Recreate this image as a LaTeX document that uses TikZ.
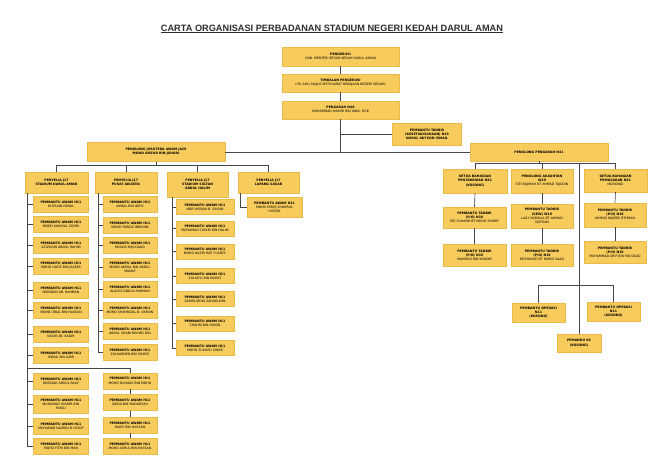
\documentclass[tikz,border=0pt]{standalone}
\usepackage{fontspec}
\setmainfont{Liberation Sans}
\newfontfamily\boxfont{DejaVu Sans}
\usetikzlibrary{shadows}
\definecolor{boxfill}{RGB}{247,204,92}
\definecolor{boxedge}{RGB}{232,186,72}
\definecolor{linec}{RGB}{70,70,70}
\definecolor{titlec}{RGB}{45,45,45}
\newcommand\pawam[1]{\textbf{PEMBANTU AWAM H11}\\#1}
\newcommand\ptadbir[2]{\textbf{PEMBANTU TADBIR}\\\textbf{#1}\\#2}
\tikzset{
  box/.style={fill=boxfill, draw=boxedge, line width=0.2pt, inner sep=0.5pt,
    align=center, text=black, font=\boxfont\fontsize{3.2}{4.1}\selectfont,
    drop shadow={shadow xshift=0.9pt, shadow yshift=-0.9pt, fill=black, opacity=0.25}},
  pa/.style={box, minimum width=55pt, minimum height=16pt},
  pa3/.style={box, minimum width=58pt, minimum height=15pt},
  rt/.style={box, minimum width=63pt, minimum height=22pt},
  link/.style={draw=linec, line width=0.65pt},
}
\begin{document}
\begin{tikzpicture}[x=1pt,y=-1pt]
\fill[white] (0,0) rectangle (665,470);
\useasboundingbox (0,0) rectangle (665,470);

\node[font=\bfseries\fontsize{9.2}{11}\selectfont, text=titlec] (title) at (332,29)
  {\underline{CARTA ORGANISASI PERBADANAN STADIUM NEGERI KEDAH DARUL AMAN}};

% top chain
\node[box, minimum width=117pt, minimum height=19pt] (peng) at (340.5,56.5)
  {\textbf{PENGERUSI}\\(YAB. MENTERI BESAR KEDAH DARUL AMAN)};
\node[box, minimum width=117pt, minimum height=18pt] (timb) at (340.5,83)
  {\textbf{TIMBALAN PENGERUSI}\\(YB. AHLI MAJLIS MESYUARAT KERAJAAN NEGERI KEDAH)};
\node[box, minimum width=117pt, minimum height=18pt] (pgh) at (340.5,110)
  {\textbf{PENGARAH N48}\\MUHAMMAD HAKIMI BIN JAMIL, BCK};
\node[box, minimum width=69pt, minimum height=22pt] (ptk) at (427,134.5)
  {\textbf{PEMBANTU TADBIR}\\\textbf{(KESETIAUSAHAAN) N19}\\\textbf{NURUL AKYSON ISMAIL}};
\node[box, minimum width=138pt, minimum height=19pt] (pj) at (156,152)
  {\textbf{PENOLONG JURUTERA AWAM JA29}\\\textbf{MOHD AMZAR BIN JOHARI}};
\node[box, minimum width=138pt, minimum height=18pt] (ppn) at (539,152)
  {\textbf{PENOLONG PENGARAH N41}};

\coordinate (trunk) at (340.5,152);
\coordinate (tk) at (340.5,134.5);
\draw[link] (peng.south) -- (timb.north);
\draw[link] (timb.south) -- (pgh.north);
\draw[link] (pgh.south) -- (trunk);
\draw[link] (tk) -- (ptk.west);
\draw[link] (pj.east) -- (ppn.west);

% penyelia row
\node[box, minimum width=63pt, minimum height=21pt] (s1) at (56.5,182.5)
  {\textbf{PENYELIA J17}\\\textbf{STADIUM DARUL AMAN}};
\node[box, minimum width=62pt, minimum height=21pt] (s2) at (126,182.5)
  {\textbf{PENYELIA J17}\\\textbf{PUSAT AKUATIK}};
\node[box, minimum width=61pt, minimum height=25pt] (s3) at (197.5,184.5)
  {\textbf{PENYELIA J17}\\\textbf{STADIUM SULTAN}\\\textbf{ABDUL HALIM}};
\node[box, minimum width=61pt, minimum height=21pt] (s4) at (268.5,182.5)
  {\textbf{PENYELIA J17}\\\textbf{LAPANG SASAR}};
\draw[link] (pj.south) -- ++(0,3);
\draw[link] (s1.north) -- ++(0,-7) -| (s4.north);
\draw[link] (s2.north) -- ++(0,-7);
\draw[link] (s3.north) -- ++(0,-7);

% column 1
\node[pa] (c1r1) at (61,204) {\pawam{HUSSAIN ISMAIL}};
\node[pa] (c1r2) at (61,224.5) {\pawam{MOHD KHAIRUL ZOHRI}};
\node[pa] (c1r3) at (61,245.5) {\pawam{AZIZUDIN ABDUL RAHIM}};
\node[pa] (c1r4) at (61,266) {\pawam{MOHD HAFIZ BIN JAAFAR}};
\node[pa] (c1r5) at (61,290) {\pawam{NORIDAN AB. RAHMAN}};
\node[pa] (c1r6) at (61,310.5) {\pawam{MOHD UBAIL BIN HASSAN}};
\node[pa] (c1r7) at (61,334) {\pawam{NASIR AB. KADIR}};
\node[pa] (c1r8) at (61,355) {\pawam{ISMAIL BIN AZMI}};
\node[pa] (c1r9) at (61,381.5) {\pawam{ROSIDAH ABDUL RAUF}};
\node[pa, minimum height=18pt] (c1r10) at (61,404) {\pawam{MUHAMAD SYAMIR BIN\\MUSLI}};
\node[pa] (c1r11) at (61,426.5) {\pawam{MUHAMAD NAZRIN B.YUSOF}};
\node[pa] (c1r12) at (61,446.5) {\pawam{MOHD FITRI BIN MAN}};
\coordinate (sp1) at ([xshift=2pt]s1.south west);
\foreach \n in {1,...,12} \draw[link] (sp1) |- (c1r\n.west);

\node[pa, minimum width=54pt] (c1b1) at (130,381) {\pawam{MOHD QUHAIDI BIN MOHD}};
\node[pa, minimum width=54pt] (c1b2) at (130,402.5) {\pawam{ZAIDA BIN MADARSAH}};
\node[pa, minimum width=54pt] (c1b3) at (130,425) {\pawam{HAIRY BIN HASSAN}};
\node[pa, minimum width=54pt] (c1b4) at (130,446.5) {\pawam{MOHD ASRUL BIN HASSAN}};
\coordinate (br1) at (27,368);
\draw[link] (br1) -| (c1b1.north);
\draw[link] (c1b1.south) -- (c1b2.north);
\draw[link] (c1b2.south) -- (c1b3.north);
\draw[link] (c1b3.south) -- (c1b4.north);

% column 2
\node[pa, minimum width=54pt] (c2r1) at (130,204.5) {\pawam{AKMAL BIN IDRIS}};
\node[pa, minimum width=54pt] (c2r2) at (130,225) {\pawam{MOHD FARIDZ IBRAHIM}};
\node[pa, minimum width=54pt] (c2r3) at (130,245.5) {\pawam{KHALID HAJI DAUD}};
\node[pa, minimum width=54pt, minimum height=19pt] (c2r4) at (130,267.5) {\pawam{MOHD AKMAL BIN ABDUL\\MANAF}};
\node[pa, minimum width=54pt] (c2r5) at (130,289.5) {\pawam{ALIAZIZ ABDUL RAHMAN}};
\node[pa, minimum width=54pt] (c2r6) at (130,310) {\pawam{MOHD SHAHRIZAL B. OSMAN}};
\node[pa, minimum width=54pt] (c2r7) at (130,331.5) {\pawam{ABDUL SHANI BIN MD DIN}};
\node[pa, minimum width=54pt] (c2r8) at (130,352) {\pawam{ZULKARNEN BIN SHAFIE}};
\coordinate (sp2) at ([xshift=3pt]s2.south west);
\foreach \n in {1,...,8} \draw[link] (sp2) |- (c2r\n.west);

% column 3
\node[pa3] (c3r1) at (205,207) {\pawam{NOR HISSAM B. SAIDIN}};
\node[pa3] (c3r2) at (205,228.5) {\pawam{MOHAMAD SYAKIR BIN HALIM}};
\node[pa3] (c3r3) at (205,251.5) {\pawam{MOHD NAZRI MAT YUSOFF}};
\node[pa3] (c3r4) at (205,276) {\pawam{ZULKIFLI BIN MURAT}};
\node[pa3] (c3r5) at (205,299) {\pawam{ZAHIRUDDIN ZAHARUDIN}};
\node[pa3] (c3r6) at (205,323.5) {\pawam{SHAHRI BIN HAMID}};
\node[pa3] (c3r7) at (205,348) {\pawam{MOHD ZULKIFLI OMAR}};
\coordinate (sp3) at ([xshift=5pt]s3.south west);
\foreach \n in {1,...,7} \draw[link] (sp3) |- (c3r\n.west);

% column 4
\node[pa, minimum height=20pt] (c4r1) at (274.5,207) {\pawam{MOHD FARIQ SHAHRUL\\HUSSIN}};
\coordinate (sp4) at ([xshift=2pt]s4.south west);
\draw[link] (sp4) |- (c4r1.west);

% right group
\node[box, minimum width=64pt, minimum height=24pt] (k1) at (475,181)
  {\textbf{KETUA BAHAGIAN}\\\textbf{PENTADBIRAN N32}\\\textbf{(KOSONG)}};
\node[box, minimum width=62pt, minimum height=24pt] (pa) at (542,181)
  {\textbf{PENOLONG AKAUNTAN}\\\textbf{W29}\\SITI NAJIHAH BT AHMAD TAJUDIN};
\node[box, minimum width=63pt, minimum height=23pt] (k2) at (615.5,180.5)
  {\textbf{KETUA BAHAGIAN}\\\textbf{PEMASARAN N32}\\(KOSONG)};
\draw[link] (ppn.south) -- ++(0,2);
\draw[link] (k1.north) -- ++(0,-6) -| (k2.north);
\draw[link] (pa.north) -- ++(0,-6);

\node[rt, minimum height=21pt] (t1) at (474.5,217.5) {\ptadbir{(P/O) N19}{SITI SUHAIMI BT MOHD SHARIF}};
\node[rt] (t2) at (474.5,255) {\ptadbir{(P/O) N19}{MAHMUD BIN KHADIR}};
\node[rt, minimum width=62pt, minimum height=24pt] (t3) at (542,216) {\ptadbir{(KEW) W19}{LAILY KAMALIA BT AHMAD\\SOFFIAN}};
\node[rt, minimum width=62pt] (t4) at (542,255) {\ptadbir{(P/O) N19}{ROSHAYATI BT MOHD SAAD}};
\node[rt, minimum width=62pt, minimum height=24pt] (t5) at (615,215) {\ptadbir{(P/O) N19}{AHMAD NAJEEB OTHMAN}};
\node[rt, minimum width=62pt] (t6) at (615,252) {\ptadbir{(P/O) N19}{MUHAMMAD ARIF BIN MD DAUD}};
\draw[link] (k1.south) -- (t1.north);
\draw[link] (t1.south) -- (t2.north);
\draw[link] (pa.south) -- (t3.north);
\draw[link] (t3.south) -- (t4.north);
\draw[link] (k2.south) -- (t5.north);
\draw[link] (t5.south) -- (t6.north);

% operasi group
\node[box, minimum width=53pt, minimum height=19pt] (op1) at (538.5,312.5)
  {\textbf{PEMBANTU OPERASI}\\\textbf{N11}\\\textbf{(KOSONG)}};
\node[box, minimum width=53pt, minimum height=19pt] (op2) at (613.5,311.5)
  {\textbf{PEMBANTU OPERASI}\\\textbf{N11}\\\textbf{(KOSONG)}};
\node[box, minimum width=44pt, minimum height=18pt] (pmd) at (579,343)
  {\textbf{PEMANDU R3}\\\textbf{(KOSONG)}};
\coordinate (lb) at (579,163);
\draw[link] (lb) -- (pmd.north);
\draw[link] (op1.north) -- ++(0,-17.5) -| (op2.north);
\end{tikzpicture}
\end{document}
